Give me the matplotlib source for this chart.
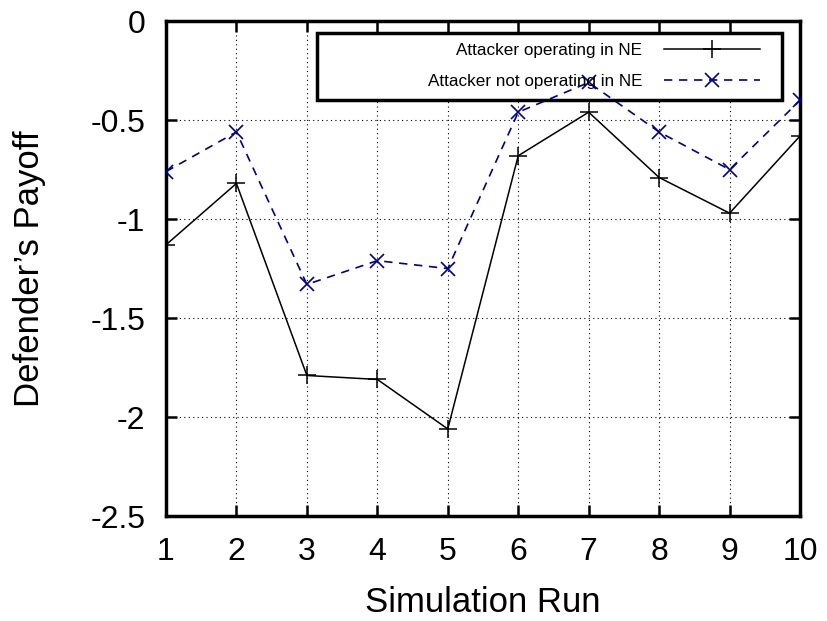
import matplotlib
matplotlib.use("Agg")
import matplotlib.pyplot as plt
from matplotlib.patches import Rectangle

plt.rcParams['font.family'] = ['Liberation Sans', 'DejaVu Sans']

runs = [1, 2, 3, 4, 5, 6, 7, 8, 9, 10]
ne_payoff = [-1.13, -0.82, -1.79, -1.81, -2.06, -0.68, -0.46, -0.79, -0.97, -0.58]
not_ne_payoff = [-0.76, -0.56, -1.33, -1.21, -1.25, -0.46, -0.31, -0.56, -0.75, -0.40]
yticks = [0, -0.5, -1, -1.5, -2, -2.5]
ytick_labels = ['0', '-0.5', '-1', '-1.5', '-2', '-2.5']

fig = plt.figure(figsize=(8.27, 6.21), dpi=100)
ax = fig.add_axes([0.2007, 0.169, 0.7667, 0.797])

ax.plot(runs, ne_payoff, color='black', linestyle='-', linewidth=1.1,
        marker='+', markersize=13, markeredgewidth=1.1,
        label='Attacker operating in NE', zorder=3)
ax.plot(runs, not_ne_payoff, color='#00008b', linestyle=(0, (5, 4)), linewidth=1.2,
        marker='x', markersize=10, markeredgewidth=1.2,
        label='Attacker not operating in NE', zorder=3)

ax.set_xlim(1, 10)
ax.set_ylim(-2.5, 0)
ax.set_xticks(runs)
ax.set_yticks(yticks)
ax.set_yticklabels(ytick_labels)
ax.grid(True, color='black', linestyle=(0, (1, 3)), linewidth=0.8)

for sp in ax.spines.values():
    sp.set_linewidth(2.5)
ax.tick_params(direction='in', length=8, width=1.8, top=True, right=True,
               labelsize=23, pad=15)

ax.set_xlabel('Simulation Run', fontsize=25, labelpad=14)
ax.set_ylabel('Defender\u2019s Payoff', fontsize=25, labelpad=32)

# key box (gnuplot style, wider than its contents), above grid, below lines
ax.add_patch(Rectangle((0.238, 0.840), 0.734, 0.136, transform=ax.transAxes,
                       facecolor='white', edgecolor='black', linewidth=2.5,
                       zorder=2))

leg = ax.legend(loc='center right', bbox_to_anchor=(0.937, 0.909), fontsize=12.3,
                markerfirst=False, frameon=False,
                handlelength=5.6, handletextpad=1.3, borderpad=0,
                labelspacing=0.95, borderaxespad=0)
leg.set_zorder(5)
for t in leg.get_texts():
    t.set_ha('right')
leg._legend_box.align = 'right'

fig.savefig('out.png', dpi=100)
